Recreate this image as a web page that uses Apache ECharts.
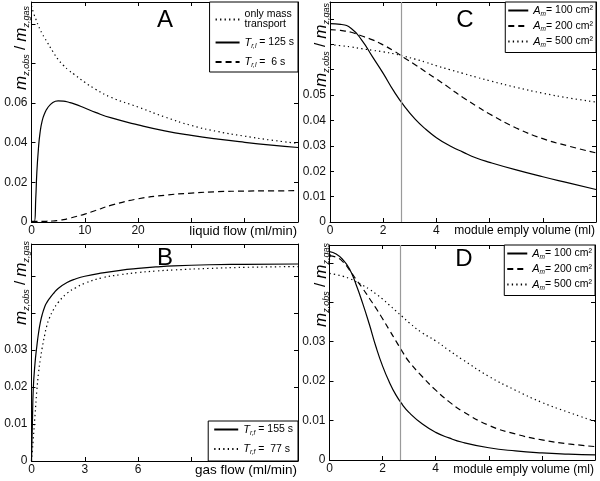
<!DOCTYPE html>
<html><head><meta charset="utf-8">
<script src="https://cdn.jsdelivr.net/npm/echarts@6/dist/echarts.min.js"></script>
<style>html,body{margin:0;padding:0;background:#fff}#c{width:600px;height:481px}</style>
</head><body><div id="c"></div>
<script>
// ---------- Panel A : liquid flow ----------
const aX = [0,0.5,0.8,1,1.3,1.6,2,2.5,3,4,5,6,7,8,10,12,15,20,25,30,35,40,45,50];
const aMassOnly = [0.109,0.1045,0.1025,0.101,0.099,0.0972,0.095,0.0927,0.0905,0.086,0.082,0.079,0.0765,0.0745,0.0705,0.067,0.0628,0.058,0.053,0.0487,0.0456,0.0433,0.0413,0.0397];
const aT125 = [0,0,0.012,0.025,0.037,0.045,0.051,0.055,0.0575,0.0603,0.0611,0.061,0.0604,0.0596,0.0575,0.0553,0.0525,0.049,0.046,0.0437,0.0418,0.0402,0.0388,0.0376];
const aT6 = [0.0003,0.0003,0.0003,0.0003,0.0003,0.0003,0.0003,0.0003,0.0004,0.0005,0.0008,0.0012,0.0018,0.0025,0.004,0.0058,0.0085,0.0117,0.0135,0.0146,0.0153,0.0156,0.0157,0.0158];
const aXLabels = ['0','10','20'];
const aYLabels = ['0','0.02','0.04','0.06'];

// ---------- Panel B : gas flow ----------
const bX = [0,0.05,0.1,0.2,0.3,0.4,0.5,0.6,0.75,0.85,1,1.25,1.5,2,2.5,3,4,5,6,7,8,10,12,15];
const bT155 = [0,0.01,0.0195,0.0265,0.031,0.0347,0.0375,0.0395,0.0417,0.0427,0.0438,0.0453,0.0466,0.0482,0.0492,0.0499,0.0508,0.0515,0.052,0.0524,0.0527,0.053,0.0531,0.0532];
const bT77 = [0,0.003,0.006,0.0125,0.019,0.024,0.0275,0.0305,0.0342,0.0363,0.0385,0.041,0.0428,0.0453,0.0468,0.048,0.0495,0.0503,0.0509,0.0513,0.0516,0.052,0.0523,0.0525];
const bXLabels = ['0','3','6'];
const bYLabels = ['0','0.01','0.02','0.03'];

// ---------- Panel C : module empty volume ----------
const cX = [0,0.4,0.8,1.2,1.6,2,2.4,2.8,3.2,3.6,4,4.5,5,5.5,6,7,8,9,10];
const cA100 = [0.0781,0.0778,0.0762,0.0715,0.065,0.0585,0.0515,0.0455,0.0405,0.0365,0.0332,0.030,0.0275,0.0252,0.0235,0.0205,0.0178,0.0153,0.0128];
const cA200 = [0.0757,0.0754,0.0747,0.0732,0.0717,0.0697,0.0673,0.0646,0.0619,0.0591,0.0563,0.0527,0.049,0.0457,0.0425,0.037,0.0328,0.0298,0.0272];
const cA500 = [0.0698,0.0694,0.0689,0.0682,0.0676,0.067,0.0662,0.0652,0.0641,0.0629,0.0615,0.06,0.0585,0.057,0.0556,0.053,0.0507,0.0488,0.0472];
const cXLabels = ['0','2','4'];
const cYLabels = ['0','0.01','0.02','0.03','0.04','0.05'];

// ---------- Panel D : module empty volume ----------
const dX = [0,0.25,0.5,0.75,1,1.25,1.5,1.75,2,2.25,2.5,2.75,3,3.5,4,4.5,5,6,7,8,9,10];
const dA100 = [0.0528,0.0522,0.0508,0.0485,0.0445,0.0397,0.0344,0.0287,0.0238,0.0198,0.0165,0.014,0.012,0.0091,0.007,0.0056,0.0045,0.0031,0.0023,0.0018,0.0015,0.0013];
const dA200 = [0.0518,0.0514,0.0503,0.0482,0.0458,0.0435,0.041,0.0385,0.0358,0.033,0.0302,0.0274,0.0249,0.0211,0.0177,0.0148,0.0124,0.0088,0.0066,0.0051,0.0041,0.0034];
const dA500 = [0.0473,0.047,0.0466,0.046,0.0452,0.0443,0.0433,0.0421,0.0408,0.0393,0.0378,0.0363,0.0348,0.0322,0.0302,0.0278,0.0255,0.0212,0.0177,0.0146,0.0121,0.0098];
const dXLabels = ['0','2','4'];
const dYLabels = ['0','0.01','0.02','0.03'];

const grayLineX = [2.67];

// ---------- layout / style ----------
const FONT = 'Arial';
const chart = echarts.init(document.getElementById('c'), null, {renderer:'canvas'});

const panels = [
  {grid:{left:31.5, top:2, width:266.5, height:220}, xmax:50, xint:10, xl:aXLabels, ymax:0.111, yint:0.02, yl:aYLabels},
  {grid:{left:31.5, top:244, width:266.5, height:217}, xmax:15, xint:3, xl:bXLabels, ymax:0.0586, yint:0.01, yl:bYLabels},
  {grid:{left:330, top:2, width:266, height:220}, xmax:10, xint:2, xl:cXLabels, ymax:0.0866, yint:0.01, yl:cYLabels},
  {grid:{left:329.5, top:245, width:265.5, height:215}, xmax:10, xint:2, xl:dXLabels, ymax:0.0545, yint:0.01, yl:dYLabels}
];

function fmt(list){
  return function(v){
    for (const s of list){ if (Math.abs(parseFloat(s)-v) < 1e-9) return s; }
    return '';
  };
}
const grids=[], xAxes=[], yAxes=[];
panels.forEach((p,gi)=>{
  grids.push(Object.assign({outerBoundsMode:'none', containLabel:false, show:false}, p.grid));
  const line = {show:true, onZero:false, lineStyle:{color:'#000', width:1}};
  const tick = {show:true, inside:true, length:4, lineStyle:{color:'#000', width:1}};
  ['bottom','top'].forEach(pos=>{
    xAxes.push({type:'value', gridIndex:gi, position:pos, min:0, max:p.xmax, interval:p.xint,
      axisLine:line, axisTick:tick, splitLine:{show:false},
      axisLabel:{show:pos==='bottom', margin:3, fontSize:12, fontFamily:FONT, color:'#111', formatter:fmt(p.xl), showMinLabel:true, showMaxLabel:true}});
  });
  ['left','right'].forEach(pos=>{
    yAxes.push({type:'value', gridIndex:gi, position:pos, min:0, max:p.ymax, interval:p.yint,
      axisLine:line, axisTick:tick, splitLine:{show:false},
      axisLabel:{show:pos==='left', margin:4, fontSize:12, fontFamily:FONT, color:'#111', formatter:fmt(p.yl), showMinLabel:true, showMaxLabel:true}});
  });
});

const SOLID='solid', DASH=[6,4], DOT=[1.3,3.2];
function mk(name, gi, xs, ys, type, extra){
  return Object.assign({
    name, type:'line', xAxisIndex:gi*2, yAxisIndex:gi*2,
    data: xs.map((x,i)=>[x, ys[i]]),
    symbol:'none', showSymbol:false, smooth:0.5,
    lineStyle:{color:'#000', width:1.2, type, cap:'butt'}, itemStyle:{color:'#000'},
    silent:true, animation:false, z:3
  }, extra||{});
}
const gray = {markLine:{silent:true, symbol:'none', animation:false, label:{show:false},
  lineStyle:{color:'#9a9a9a', width:1.2, type:'solid'}, data: grayLineX.map(v=>({xAxis:v}))}};

const series = [
  mk('aMass',0,aX,aMassOnly,DOT),
  mk('aT125',0,aX,aT125,SOLID),
  mk('aT6',0,aX,aT6,DASH),
  mk('bT155',1,bX,bT155,SOLID),
  mk('bT77',1,bX,bT77,DOT),
  mk('A100',2,cX,cA100,SOLID,gray),
  mk('A200',2,cX,cA200,DASH),
  mk('A500',2,cX,cA500,DOT),
  mk('A100',3,dX,dA100,SOLID,gray),
  mk('A200',3,dX,dA200,DASH),
  mk('A500',3,dX,dA500,DOT)
];

const legTexts = {
  aMass:'{t|only mass}\n{t|transport}',
  aT125:'{i|T}{s|r,l}{n| = 125 s}',
  aT6:'{i|T}{s|r,l}{n| =  6 s}',
  bT155:'{i|T}{s|r,f}{n| = 155 s}',
  bT77:'{i|T}{s|r,f}{n| =  77 s}',
  A100:'{i|A}{s|m}{n|= 100 cm²}',
  A200:'{i|A}{s|m}{n|= 200 cm²}',
  A500:'{i|A}{s|m}{n|= 500 cm²}'
};
function legRich(fs){
  return {
    t:{fontSize:fs, fontFamily:FONT, color:'#000', lineHeight:10},
    i:{fontSize:fs+0.5, fontFamily:FONT, fontStyle:'italic', color:'#000', lineHeight:14},
    s:{fontSize:6.5, fontFamily:FONT, fontStyle:'italic', color:'#000', lineHeight:6, verticalAlign:'bottom'},
    n:{fontSize:fs, fontFamily:FONT, color:'#000', lineHeight:14}
  };
}
function legend(names, pos, fs, pad, gap, iw){
  return Object.assign({
    data:names, orient:'vertical', itemWidth:iw, itemHeight:10, itemGap:gap, padding:pad,
    borderColor:'#000', borderWidth:1, backgroundColor:'#fff', selectedMode:false,
    itemStyle:{opacity:0}, lineStyle:{inherit:true},
    formatter:n=>legTexts[n], textStyle:{fontSize:fs, fontFamily:FONT, color:'#000', rich:legRich(fs)},
    inactiveColor:'#000'
  }, pos);
}
const legends = [
  legend(['aMass','aT125','aT6'], {right:302, top:2}, 10.5, [7,4,3,5], 7, 24),
  legend(['bT155','bT77'], {right:302, bottom:20}, 10.5, [3,5,5,5], 7, 24),
  legend(['A100','A200','A500'], {right:4, top:2}, 10.5, [3,3,4,2], 3, 20),
  legend(['A100','A200','A500'], {right:5, top:245}, 10.5, [3,3,4,2], 3, 20)
];

function ytitle(x,y){
  return {type:'text', x, y, rotation:Math.PI/2, z:10, silent:true, style:{
    text:'{m|m}{s|z,obs}{n| / }{m|m}{s|z,gas}', align:'center', verticalAlign:'middle',
    rich:{
      m:{fontSize:17, fontFamily:FONT, fontStyle:'italic', fill:'#000', lineHeight:20},
      s:{fontSize:9, fontFamily:FONT, fontStyle:'italic', fill:'#000', lineHeight:9, verticalAlign:'bottom'},
      n:{fontSize:15, fontFamily:FONT, fill:'#000', lineHeight:20}
    }}};
}
function txt(x,y,s,fs,align){
  return {type:'text', x, y, z:1, silent:true, style:{text:s, fontSize:fs, fontFamily:FONT, fill:'#000', align:align||'center', verticalAlign:'middle'}};
}
const graphic = [
  txt(165,20,'A',24), txt(165,258,'B',24), txt(465,20,'C',24), txt(464,259,'D',24),
  txt(297,231,'liquid flow (ml/min)',13,'right'),
  txt(297,470,'gas flow (ml/min)',13.5,'right'),
  txt(595,231,'module emply volume (ml)',12,'right'),
  txt(594,470,'module emply volume (ml)',12,'right'),
  ytitle(21,48), ytitle(21,283), ytitle(321,45), ytitle(321,285)
];

chart.setOption({
  backgroundColor:'#fff', animation:false,
  grid:grids, xAxis:xAxes, yAxis:yAxes, series, legend:legends, graphic
});
</script></body></html>
